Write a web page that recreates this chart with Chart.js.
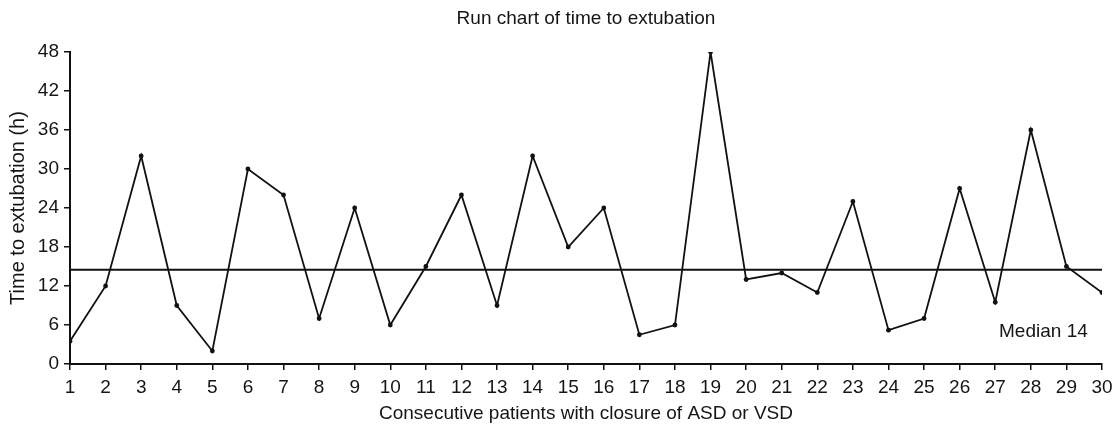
<!DOCTYPE html>
<html>
<head>
<meta charset="utf-8">
<title>Run chart of time to extubation</title>
<script src="https://cdn.jsdelivr.net/npm/chart.js@4/dist/chart.umd.min.js"></script>
<style>
  html, body { margin: 0; padding: 0; background: #fff; }
  #wrap { width: 1115px; height: 428px; }
</style>
</head>
<body>
<div id="wrap"><canvas id="run-chart" width="1115" height="428"></canvas></div>
<script>
// patient number and hours to extubation
const patients = [1, 2, 3, 4, 5, 6, 7, 8, 9, 10, 11, 12, 13, 14, 15,
  16, 17, 18, 19, 20, 21, 22, 23, 24, 25, 26, 27, 28, 29, 30];
const hours = [3.5, 12, 32, 9, 2, 30, 26, 7, 24, 6, 15, 26, 9, 32, 18,
  24, 4.5, 6, 48, 13, 14, 11, 25, 5.2, 7, 27, 9.5, 36, 15, 11];
const yTicks = [0, 6, 12, 18, 24, 30, 36, 42, 48];
const medianLine = 14.5;
const medianText = "Median 14";
const chartTitle = "Run chart of time to extubation";

const fontFamily = "'Liberation Sans', Arial, sans-serif";
const ink = "#151515";

// title centred over the plot area, and the median label next to the line
const extraText = {
  id: "extraText",
  afterDraw(chart) {
    const { ctx, scales, chartArea } = chart;
    ctx.save();
    ctx.font = "19px " + fontFamily;
    ctx.fillStyle = ink;
    ctx.textBaseline = "middle";
    ctx.textAlign = "center";
    ctx.fillText(chartTitle, (chartArea.left + chartArea.right) / 2, 19);
    ctx.textAlign = "right";
    ctx.fillText(medianText, scales.x.getPixelForValue(29.6), scales.y.getPixelForValue(4.9));
    ctx.restore();
  }
};

const points = patients.map((p, i) => ({ x: p, y: hours[i] }));

new Chart(document.getElementById("run-chart"), {
  type: "line",
  data: {
    datasets: [
      {
        label: "Time to extubation",
        data: points,
        borderColor: "#111",
        borderWidth: 1.8,
        pointRadius: 2.4,
        pointBackgroundColor: "#111",
        pointBorderWidth: 0,
        tension: 0
      },
      {
        label: "Median",
        data: [{ x: patients[0], y: medianLine }, { x: patients[patients.length - 1], y: medianLine }],
        borderColor: "#111",
        borderWidth: 1.8,
        pointRadius: 0
      }
    ]
  },
  options: {
    responsive: false,
    animation: false,
    layout: { padding: { left: 0, right: 13, top: 52, bottom: 0 } },
    plugins: {
      legend: { display: false },
      tooltip: { enabled: false },
      title: { display: false }
    },
    scales: {
      x: {
        type: "linear",
        min: 1,
        max: 30,
        afterFit(scale) {
          scale.height = 64;
          scale.paddingRight = 0;
        },
        afterBuildTicks(scale) { scale.ticks = patients.map(v => ({ value: v })); },
        ticks: {
          color: ink,
          font: { family: fontFamily, size: 19 },
          padding: 6,
          maxRotation: 0,
          autoSkip: false
        },
        grid: { drawOnChartArea: false, drawTicks: true, tickLength: 6, color: "#111", lineWidth: 1.5 },
        border: { display: true, color: "#111", width: 2 },
        title: {
          display: true,
          text: "Consecutive patients with closure of ASD or VSD",
          color: ink,
          font: { family: fontFamily, size: 19 },
          padding: { top: 0, bottom: 3 }
        }
      },
      y: {
        min: 0,
        max: 48,
        afterFit(scale) { scale.width = 70; },
        afterBuildTicks(scale) { scale.ticks = yTicks.map(v => ({ value: v })); },
        ticks: {
          color: ink,
          font: { family: fontFamily, size: 19 },
          padding: 5
        },
        grid: { drawOnChartArea: false, drawTicks: true, tickLength: 6, color: "#111", lineWidth: 1.5 },
        border: { display: true, color: "#111", width: 2 },
        title: {
          display: true,
          text: "Time to extubation (h)",
          color: ink,
          font: { family: fontFamily, size: 20 },
          padding: { top: 6, bottom: 0 }
        }
      }
    }
  },
  plugins: [extraText]
});
</script>
</body>
</html>
